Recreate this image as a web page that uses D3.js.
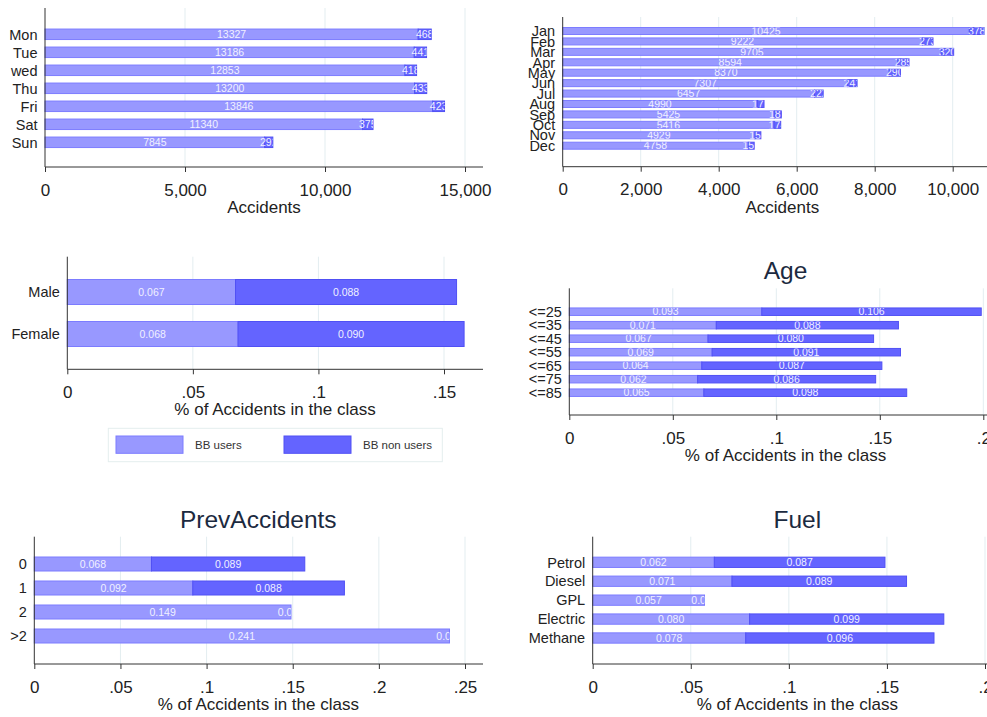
<!DOCTYPE html>
<html>
<head>
<meta charset="utf-8">
<script src="https://cdn.jsdelivr.net/npm/d3@7"></script>
<style>
  body { margin: 0; background: #fff; }
  svg { display: block; }
</style>
</head>
<body>
<svg id="chart" width="987" height="717"></svg>
<script>
// data
var dayCats = ["Mon", "Tue", "wed", "Thu", "Fri", "Sat", "Sun"];
var dayUsers = [13327, 13186, 12853, 13200, 13846, 11340, 7845];
var dayNon = [468, 441, 418, 433, 423, 375, 292];

var monthCats = ["Jan", "Feb", "Mar", "Apr", "May", "Jun", "Jul", "Aug", "Sep", "Oct", "Nov", "Dec"];
var monthUsers = [10425, 9222, 9705, 8594, 8370, 7307, 6457, 4990, 5425, 5416, 4929, 4758];
var monthNon = [378, 273, 320, 285, 290, 241, 222, 172, 181, 174, 152, 152];

var genderCats = ["Male", "Female"];
var genderUsers = [0.067, 0.068];
var genderNon = [0.088, 0.090];

var ageCats = ["<=25", "<=35", "<=45", "<=55", "<=65", "<=75", "<=85"];
var ageUsers = [0.093, 0.071, 0.067, 0.069, 0.064, 0.062, 0.065];
var ageNon = [0.106, 0.088, 0.080, 0.091, 0.087, 0.086, 0.098];

var prevCats = ["0", "1", "2", ">2"];
var prevUsers = [0.068, 0.092, 0.149, 0.241];
var prevNon = [0.089, 0.088, 0.000, 0.000];

var fuelCats = ["Petrol", "Diesel", "GPL", "Electric", "Methane"];
var fuelUsers = [0.062, 0.071, 0.057, 0.080, 0.078];
var fuelNon = [0.087, 0.089, 0.000, 0.099, 0.096];

var countTicks = [0, 5000, 10000, 15000];
var monthTicks = [0, 2000, 4000, 6000, 8000, 10000];
var shareTicksA = [0, 0.05, 0.1, 0.15];
var shareTicksB = [0, 0.05, 0.1, 0.15, 0.2];
var shareTicksC = [0, 0.05, 0.1, 0.15, 0.2, 0.25];
var legendLabels = ["BB users", "BB non users"];

var FONT = "'Liberation Sans', Arial, Helvetica, sans-serif";
var lightFill = "#9898ff", lightLine = "#7c7cff";
var darkFill = "#6464ff", darkLine = "#5050f4";

var svg = d3.select("#chart");

var fmtShare = function(d) {
  return d === 0 ? "0" : d3.format(".2~f")(d).replace(/^0/, "");
};

var drawPanel = function(p) {
  var g = svg.append("g");
  var x = d3.scaleLinear().domain([0, p.ticks[p.ticks.length - 1]]).range([p.x0, p.xLast]);
  var y = d3.scalePoint().domain(p.cats).range([p.yFirst, p.yLast]);
  var rows = p.cats.map(function(c, i) { return {cat: c, a: p.users[i], b: p.non[i], i: i}; });

  // grid
  g.selectAll(".grid").data(p.ticks.filter(function(t){ return t > 0; }))
    .join("line")
      .attr("x1", function(d){ return x(d); }).attr("x2", function(d){ return x(d); })
      .attr("y1", p.yTop).attr("y2", p.axisY)
      .attr("stroke", "#e3edf0").attr("stroke-width", 1);

  // clip paths so labels stop at the end of the bar
  var defs = g.append("defs");
  defs.selectAll("clipPath").data(rows).join("clipPath")
      .attr("id", function(d){ return "clip-" + p.id + "-" + d.i; })
    .append("rect")
      .attr("x", x(0)).attr("y", function(d){ return y(d.cat) - p.h / 2; })
      .attr("width", function(d){ return x(d.a + d.b) - x(0); })
      .attr("height", p.h);

  var row = g.selectAll(".row").data(rows).join("g");

  row.append("rect")
      .attr("x", x(0)).attr("y", function(d){ return y(d.cat) - p.h / 2; })
      .attr("width", function(d){ return x(d.a) - x(0); }).attr("height", p.h)
      .attr("fill", lightFill).attr("stroke", lightLine).attr("stroke-width", 1);
  row.append("rect")
      .attr("x", function(d){ return x(d.a); }).attr("y", function(d){ return y(d.cat) - p.h / 2; })
      .attr("width", function(d){ return x(d.a + d.b) - x(d.a); }).attr("height", p.h)
      .attr("fill", darkFill).attr("stroke", darkLine).attr("stroke-width", 1);

  var lab = row.append("g")
      .attr("clip-path", function(d){ return "url(#clip-" + p.id + "-" + d.i + ")"; })
      .attr("font-family", FONT).attr("font-size", "10.5px")
      .attr("fill", "#f0f0ff").attr("text-anchor", "middle");
  lab.append("text")
      .attr("x", function(d){ return x(d.a / 2); }).attr("y", function(d){ return y(d.cat); })
      .attr("dy", "0.36em").text(function(d){ return p.valFmt(d.a); });
  lab.append("text")
      .attr("x", function(d){ return x(d.a + d.b / 2); }).attr("y", function(d){ return y(d.cat); })
      .attr("dy", "0.36em").text(function(d){ return p.valFmt(d.b); });

  // category labels
  g.selectAll(".cat").data(p.cats).join("text")
      .attr("x", p.x0 - 7.5).attr("y", function(d){ return y(d); })
      .attr("dy", "0.36em").attr("text-anchor", "end")
      .attr("font-family", FONT).attr("font-size", "14.5px").attr("fill", "#222")
      .text(function(d){ return d; });

  // axes
  var ax = g.append("g").attr("transform", "translate(0," + p.axisY + ")")
      .call(d3.axisBottom(x).tickValues(p.ticks).tickSize(5).tickFormat(p.tickFmt));
  ax.select(".domain").remove();
  ax.selectAll(".tick line").attr("stroke", "#333");
  ax.selectAll(".tick text")
      .attr("y", 28.5).attr("dy", null)
      .attr("font-family", FONT).attr("font-size", "17px").attr("fill", "#222");
  g.append("line").attr("x1", p.x0).attr("x2", p.xEnd)
      .attr("y1", p.axisY).attr("y2", p.axisY).attr("stroke", "#333");
  g.append("line").attr("x1", p.x0).attr("x2", p.x0)
      .attr("y1", p.yTop).attr("y2", p.axisY).attr("stroke", "#333");

  g.append("text").attr("x", p.titleX).attr("y", p.axisY + 46)
      .attr("text-anchor", "middle").attr("font-family", FONT)
      .attr("font-size", "17px").attr("fill", "#222").text(p.xTitle);

  if (p.title) {
    g.append("text").attr("x", p.titleX).attr("y", p.yTop - 9)
        .attr("text-anchor", "middle").attr("font-family", FONT)
        .attr("font-size", "24.5px").attr("fill", "#1c2a40").text(p.title);
  }
};

var shareTitle = "% of Accidents in the class";

drawPanel({id: "day", cats: dayCats, users: dayUsers, non: dayNon, ticks: countTicks,
  x0: 45, xLast: 465, xEnd: 483, yTop: 8, axisY: 167, yFirst: 34.3, yLast: 142.3, h: 10.5,
  tickFmt: d3.format(","), valFmt: d3.format("d"), xTitle: "Accidents", titleX: 264});

drawPanel({id: "month", cats: monthCats, users: monthUsers, non: monthNon, ticks: monthTicks,
  x0: 562.7, xLast: 952.7, xEnd: 990, yTop: 17, axisY: 166.7, yFirst: 31, yLast: 145.7, h: 7,
  tickFmt: d3.format(","), valFmt: d3.format("d"), xTitle: "Accidents", titleX: 782.3});

drawPanel({id: "gender", cats: genderCats, users: genderUsers, non: genderNon, ticks: shareTicksA,
  x0: 67.3, xLast: 444, xEnd: 483, yTop: 256.7, axisY: 369.3, yFirst: 292, yLast: 334, h: 25,
  tickFmt: fmtShare, valFmt: d3.format(".3f"), xTitle: shareTitle, titleX: 275});

drawPanel({id: "age", cats: ageCats, users: ageUsers, non: ageNon, ticks: shareTicksB,
  x0: 569.3, xLast: 983.3, xEnd: 990, yTop: 288.3, axisY: 415, yFirst: 311.7, yLast: 392.7, h: 7.5,
  tickFmt: fmtShare, valFmt: d3.format(".3f"), xTitle: shareTitle, titleX: 785.5, title: "Age"});

drawPanel({id: "prev", cats: prevCats, users: prevUsers, non: prevNon, ticks: shareTicksC,
  x0: 34.3, xLast: 465, xEnd: 483, yTop: 536.7, axisY: 664, yFirst: 564, yLast: 636, h: 14,
  tickFmt: fmtShare, valFmt: d3.format(".3f"), xTitle: shareTitle, titleX: 258.3, title: "PrevAccidents"});

drawPanel({id: "fuel", cats: fuelCats, users: fuelUsers, non: fuelNon, ticks: shareTicksB,
  x0: 592.7, xLast: 985, xEnd: 990, yTop: 536.7, axisY: 664, yFirst: 562.3, yLast: 638, h: 10.3,
  tickFmt: fmtShare, valFmt: d3.format(".3f"), xTitle: shareTitle, titleX: 797.3, title: "Fuel"});

// legend
var leg = svg.append("g");
leg.append("rect").attr("x", 108.3).attr("y", 428.3).attr("width", 334).attr("height", 33.4)
    .attr("fill", "#fff").attr("stroke", "#e4eeee").attr("stroke-width", 1);
var legItems = leg.selectAll(".item").data(legendLabels).join("g")
    .attr("transform", function(d, i){ return "translate(" + (116 + i * 168) + ",436)"; });
legItems.append("rect").attr("width", 67).attr("height", 17.3)
    .attr("fill", function(d, i){ return i === 0 ? lightFill : darkFill; })
    .attr("stroke", function(d, i){ return i === 0 ? lightLine : darkLine; });
legItems.append("text").attr("x", 79).attr("y", 8.7).attr("dy", "0.36em")
    .attr("font-family", FONT).attr("font-size", "11.5px").attr("fill", "#333")
    .text(function(d){ return d; });
</script>
</body>
</html>
